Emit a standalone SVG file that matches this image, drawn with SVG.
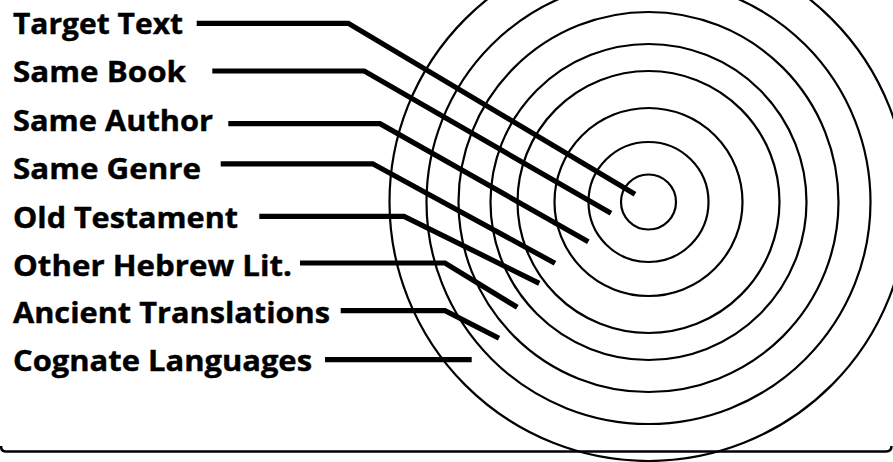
<svg xmlns="http://www.w3.org/2000/svg" width="893" height="462" viewBox="0 0 893 462">
<style>
.lbl{font-family:"Open Sans","Noto Sans","Liberation Sans",sans-serif;font-weight:bold;font-size:28px;fill:#000;stroke:#000;stroke-width:0.4}
.ring{fill:none;stroke:#000;stroke-width:2.2}
.conn{fill:none;stroke:#000;stroke-width:5.2;stroke-linecap:butt;stroke-linejoin:miter}
</style>
<rect width="893" height="462" fill="#fff"/>
<path d="M1,446 Q1,451.5 6,451.5 H886 Q891.5,451.5 891.5,446" fill="none" stroke="#000" stroke-width="2.5"/>
<g id="rings">
<circle class="ring" cx="648.5" cy="202" r="27.5"/>
<circle class="ring" cx="648.5" cy="202" r="60"/>
<circle class="ring" cx="648.5" cy="202" r="94"/>
<circle class="ring" cx="648.5" cy="202" r="131"/>
<circle class="ring" cx="648.5" cy="202" r="158"/>
<circle class="ring" cx="648.5" cy="202" r="190"/>
<circle class="ring" cx="648.5" cy="202" r="222"/>
<circle class="ring" cx="648.5" cy="202" r="259"/>
</g>
<g id="n1"><text class="lbl" x="13" y="33.5" textLength="170" lengthAdjust="spacingAndGlyphs">Target Text</text></g>
<g id="n2"><text class="lbl" x="13" y="82" textLength="173" lengthAdjust="spacingAndGlyphs">Same Book</text></g>
<g id="n3"><text class="lbl" x="13" y="130.7" textLength="200" lengthAdjust="spacingAndGlyphs">Same Author</text></g>
<g id="n4"><text class="lbl" x="13" y="179.3" textLength="188" lengthAdjust="spacingAndGlyphs">Same Genre</text></g>
<g id="n5"><text class="lbl" x="13" y="227.7" textLength="225" lengthAdjust="spacingAndGlyphs">Old Testament</text></g>
<g id="n6"><text class="lbl" x="13" y="275.7" textLength="279" lengthAdjust="spacingAndGlyphs">Other Hebrew Lit.</text></g>
<g id="n7"><text class="lbl" x="13" y="323.2" textLength="317" lengthAdjust="spacingAndGlyphs">Ancient Translations</text></g>
<g id="n8"><text class="lbl" x="13" y="370.7" textLength="299" lengthAdjust="spacingAndGlyphs">Cognate Languages</text></g>
<g id="connectors">
<polyline class="conn" points="196.7,23.3 348.3,23.3 635,194.3"/>
<polyline class="conn" points="212.3,71 364.3,71 611,213.3"/>
<polyline class="conn" points="228.3,123.7 380,123.7 588.3,241.7"/>
<polyline class="conn" points="220.7,163.8 372.7,163.8 555,263.3"/>
<polyline class="conn" points="259.3,216.3 404,216.3 539.3,283.3"/>
<polyline class="conn" points="300,263 445,263 517.3,307.3"/>
<polyline class="conn" points="340.7,310.7 445,310.7 499,338.3"/>
<polyline class="conn" points="325,359.7 471.7,359.7"/>
</g>
</svg>
